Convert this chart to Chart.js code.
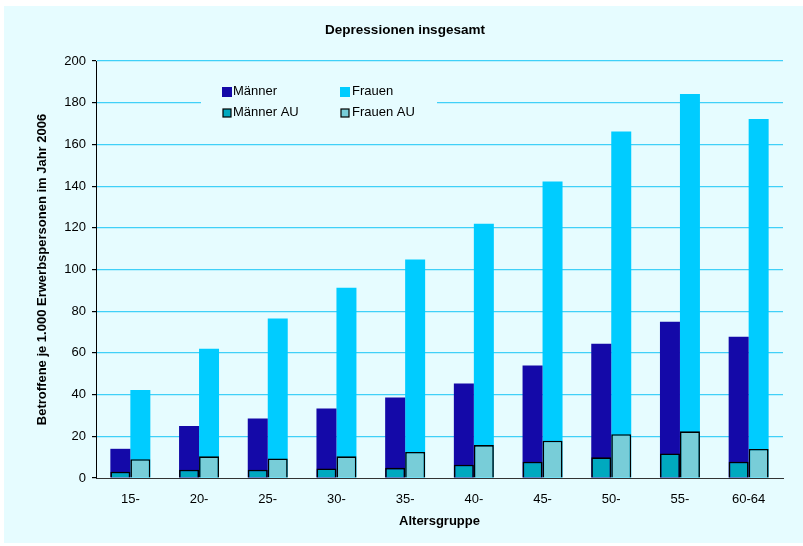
<!DOCTYPE html>
<html>
<head>
<meta charset="utf-8">
<script src="https://cdn.jsdelivr.net/npm/chart.js@4"></script>
<style>
  html, body { margin: 0; padding: 0; background: #ffffff; }
  #wrap { width: 803px; height: 546px; }
</style>
</head>
<body>
<div id="wrap"><canvas id="chart" width="803" height="546"></canvas></div>
<script>
// Age groups and cases per 1,000 employed persons (2006)
const categories = ['15-', '20-', '25-', '30-', '35-', '40-', '45-', '50-', '55-', '60-64'];
const maenner   = [14, 25, 28.5, 33.3, 38.6, 45.3, 53.9, 64.4, 75, 67.8];
const frauen    = [42.2, 62, 76.5, 91.3, 104.8, 122, 142.2, 166.2, 184.2, 172.2];
const maennerAU = [3, 4, 4, 4.6, 4.9, 6.4, 7.8, 9.9, 11.8, 7.8];
const frauenAU  = [9, 10.4, 9.4, 10.4, 12.5, 15.8, 17.9, 21, 22.4, 13.9];
const yMin = 0, yMax = 200, yStep = 20;
const chartTitle = 'Depressionen insgesamt';

const FONT = '"Liberation Sans", Arial, sans-serif';
const BG = '#E6FCFF';
const GRID = '#40D0F8';

// Light cyan panel behind the whole chart, with the centred title on top
const panelBackground = {
  id: 'panelBackground',
  beforeDraw(chart) {
    const ctx = chart.ctx;
    ctx.save();
    ctx.fillStyle = BG;
    ctx.fillRect(4, 6, chart.width - 4, chart.height - 9);
    ctx.fillStyle = '#000';
    ctx.font = 'bold 13.5px ' + FONT;
    ctx.textAlign = 'center';
    ctx.textBaseline = 'middle';
    ctx.fillText(chartTitle, 405, 30);
    ctx.restore();
  }
};

// Two-column legend placed inside the plot area
const insideLegend = {
  id: 'insideLegend',
  afterDraw(chart) {
    const ctx = chart.ctx;
    const ds = chart.data.datasets;
    ctx.save();
    ctx.fillStyle = BG;
    ctx.fillRect(201, 80, 236, 42);
    ctx.font = '13px ' + FONT;
    ctx.textBaseline = 'alphabetic';
    ctx.textAlign = 'left';
    const items = [
      { d: ds[2], x: 222, y: 87, w: 10, h: 10, textX: 233, base: 95 },
      { d: ds[3], x: 340, y: 87, w: 10, h: 10, textX: 352, base: 95 },
      { d: ds[0], x: 223, y: 109, w: 8, h: 8, textX: 233, base: 116, framed: true },
      { d: ds[1], x: 341, y: 109, w: 8, h: 8, textX: 352, base: 116, framed: true }
    ];
    items.forEach(it => {
      ctx.fillStyle = it.d.backgroundColor;
      ctx.fillRect(it.x, it.y, it.w, it.h);
      if (it.framed) {
        ctx.strokeStyle = '#000';
        ctx.lineWidth = 1.2;
        ctx.strokeRect(it.x, it.y, it.w, it.h);
      }
      ctx.fillStyle = '#000';
      ctx.fillText(it.d.label, it.textX, it.base);
    });
    ctx.restore();
  }
};

new Chart(document.getElementById('chart'), {
  type: 'bar',
  data: {
    labels: categories,
    datasets: [
      { label: 'Männer AU', data: maennerAU, stack: 'm', order: 0,
        backgroundColor: '#00A9BF', borderColor: '#000', borderWidth: 1.6 },
      { label: 'Frauen AU', data: frauenAU, stack: 'f', order: 0,
        backgroundColor: '#78CDD8', borderColor: '#000', borderWidth: 1.6 },
      { label: 'Männer', data: maenner, stack: 'm', order: 1,
        backgroundColor: '#1409A8', borderWidth: 0 },
      { label: 'Frauen', data: frauen, stack: 'f', order: 1,
        backgroundColor: '#00CCFF', borderWidth: 0 }
    ]
  },
  options: {
    responsive: false,
    animation: false,
    devicePixelRatio: 1,
    categoryPercentage: 0.582,
    barPercentage: 1,
    layout: { padding: { top: 61, right: 20, left: 0, bottom: 0 } },
    plugins: {
      legend: { display: false },
      tooltip: { enabled: false },
      title: { display: false }
    },
    scales: {
      x: {
        stacked: true,
        grid: { display: false, drawTicks: false },
        border: { display: true, color: '#333', width: 1 },
        ticks: { color: '#000', padding: 14, font: { family: FONT, size: 13 } },
        title: {
          display: true, text: 'Altersgruppe', color: '#000',
          font: { family: FONT, size: 13, weight: 'bold' },
          padding: { top: 0, bottom: 17.2 }
        },
        afterFit(scale) { scale.height = 68; }
      },
      y: {
        stacked: false,
        min: yMin, max: yMax,
        ticks: { stepSize: yStep, color: '#000', padding: 6, font: { family: FONT, size: 13 } },
        grid: {
          color: c => (c.tick && c.tick.value === 0 ? 'rgba(0,0,0,0)' : GRID),
          lineWidth: 1.2,
          drawTicks: true,
          tickLength: 4,
          tickColor: '#000'
        },
        border: { display: true, color: '#000', width: 1 },
        title: {
          display: true, text: 'Betroffene je 1.000 Erwerbspersonen im Jahr 2006', color: '#000',
          font: { family: FONT, size: 13, weight: 'bold' },
          padding: { top: 34.2, bottom: 0 }
        },
        afterFit(scale) { scale.width = 96; }
      }
    }
  },
  plugins: [panelBackground, insideLegend]
});
</script>
</body>
</html>
